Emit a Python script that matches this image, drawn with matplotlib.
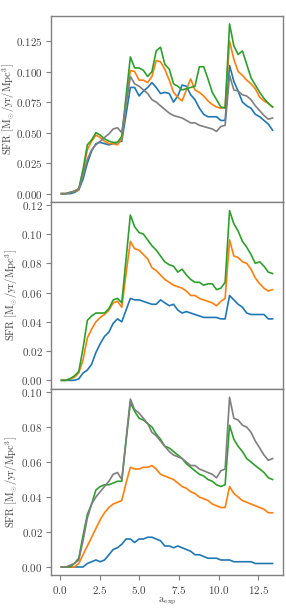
import matplotlib
matplotlib.use("Agg")
import matplotlib.pyplot as plt

plt.rcParams.update({
    "font.family": "serif",
    "font.serif": ["cmr10"],
    "mathtext.fontset": "cm",
    "axes.formatter.use_mathtext": True,
    "font.size": 8,
})

a_exp = [0.10, 0.37, 0.64, 0.91, 1.19, 1.46, 1.73, 2.00, 2.27, 2.54,
         2.81, 3.09, 3.36, 3.63, 3.90, 4.17, 4.44, 4.71, 4.99, 5.26,
         5.53, 5.80, 6.07, 6.34, 6.61, 6.89, 7.16, 7.43, 7.70, 7.97,
         8.24, 8.51, 8.79, 9.06, 9.33, 9.60, 9.87, 10.14, 10.41, 10.69,
         10.96, 11.23, 11.50, 11.77, 12.04, 12.31, 12.59, 12.86, 13.13, 13.40]

# reference (grey) curve, shared by top and bottom panels
sfr_ref = [0.000, 0.000, 0.001, 0.002, 0.004, 0.015, 0.028, 0.036, 0.040, 0.043,
           0.046, 0.049, 0.053, 0.054, 0.050, 0.073, 0.096, 0.090, 0.088, 0.085,
           0.082, 0.077, 0.075, 0.072, 0.069, 0.066, 0.064, 0.063, 0.062, 0.060,
           0.058, 0.058, 0.056, 0.055, 0.054, 0.053, 0.051, 0.055, 0.056, 0.097,
           0.085, 0.084, 0.081, 0.080, 0.077, 0.072, 0.068, 0.064, 0.061, 0.062]

top_blue = [0.000, 0.000, 0.000, 0.001, 0.003, 0.012, 0.025, 0.035, 0.041, 0.042,
            0.041, 0.040, 0.041, 0.042, 0.043, 0.065, 0.087, 0.087, 0.080, 0.084,
            0.087, 0.091, 0.087, 0.082, 0.083, 0.082, 0.075, 0.080, 0.089, 0.088,
            0.081, 0.077, 0.070, 0.065, 0.063, 0.063, 0.063, 0.060, 0.060, 0.105,
            0.092, 0.084, 0.075, 0.072, 0.070, 0.065, 0.063, 0.060, 0.057, 0.052]
top_orange = [0.000, 0.000, 0.001, 0.002, 0.003, 0.018, 0.036, 0.043, 0.048, 0.046,
              0.043, 0.041, 0.041, 0.040, 0.045, 0.075, 0.101, 0.100, 0.093, 0.093,
              0.091, 0.096, 0.109, 0.108, 0.102, 0.093, 0.083, 0.079, 0.076, 0.085,
              0.094, 0.085, 0.083, 0.080, 0.076, 0.073, 0.071, 0.070, 0.071, 0.125,
              0.110, 0.100, 0.097, 0.093, 0.090, 0.086, 0.079, 0.076, 0.074, 0.071]
top_green = [0.000, 0.000, 0.001, 0.002, 0.004, 0.020, 0.040, 0.044, 0.050, 0.048,
             0.045, 0.043, 0.042, 0.042, 0.047, 0.080, 0.112, 0.103, 0.103, 0.101,
             0.096, 0.100, 0.117, 0.120, 0.106, 0.102, 0.090, 0.088, 0.085, 0.086,
             0.087, 0.088, 0.104, 0.104, 0.094, 0.083, 0.077, 0.071, 0.070, 0.139,
             0.121, 0.114, 0.117, 0.106, 0.095, 0.089, 0.083, 0.078, 0.074, 0.071]

mid_blue = [0.000, 0.000, 0.000, 0.000, 0.001, 0.005, 0.007, 0.011, 0.019, 0.025,
            0.030, 0.033, 0.039, 0.042, 0.040, 0.048, 0.056, 0.055, 0.055, 0.054,
            0.053, 0.052, 0.052, 0.055, 0.053, 0.051, 0.052, 0.048, 0.046, 0.047,
            0.046, 0.045, 0.044, 0.043, 0.043, 0.043, 0.043, 0.042, 0.042, 0.058,
            0.055, 0.052, 0.050, 0.046, 0.045, 0.045, 0.045, 0.045, 0.042, 0.042]
mid_orange = [0.000, 0.000, 0.001, 0.002, 0.005, 0.014, 0.029, 0.035, 0.040, 0.043,
              0.045, 0.048, 0.053, 0.054, 0.050, 0.073, 0.095, 0.090, 0.089, 0.086,
              0.083, 0.077, 0.075, 0.072, 0.069, 0.067, 0.065, 0.064, 0.063, 0.061,
              0.058, 0.058, 0.056, 0.055, 0.054, 0.053, 0.051, 0.054, 0.056, 0.096,
              0.085, 0.084, 0.081, 0.080, 0.076, 0.070, 0.066, 0.063, 0.061, 0.062]
mid_green = [0.000, 0.000, 0.001, 0.003, 0.006, 0.022, 0.041, 0.044, 0.046, 0.046,
             0.046, 0.049, 0.055, 0.056, 0.053, 0.083, 0.113, 0.105, 0.101, 0.100,
             0.096, 0.092, 0.089, 0.085, 0.081, 0.079, 0.078, 0.074, 0.076, 0.072,
             0.069, 0.067, 0.067, 0.065, 0.066, 0.066, 0.062, 0.063, 0.067, 0.116,
             0.107, 0.102, 0.095, 0.091, 0.086, 0.080, 0.081, 0.078, 0.074, 0.073]

bot_blue = [0.000, 0.000, 0.000, 0.000, 0.000, 0.000, 0.002, 0.003, 0.004, 0.003,
            0.004, 0.007, 0.010, 0.011, 0.013, 0.016, 0.016, 0.014, 0.016, 0.016,
            0.017, 0.017, 0.016, 0.015, 0.012, 0.012, 0.011, 0.012, 0.011, 0.010,
            0.009, 0.007, 0.007, 0.006, 0.005, 0.005, 0.005, 0.004, 0.004, 0.004,
            0.003, 0.003, 0.003, 0.003, 0.003, 0.002, 0.002, 0.002, 0.002, 0.002]
bot_orange = [0.000, 0.000, 0.000, 0.000, 0.002, 0.007, 0.012, 0.017, 0.022, 0.027,
              0.031, 0.034, 0.036, 0.037, 0.038, 0.048, 0.057, 0.056, 0.056, 0.057,
              0.057, 0.058, 0.056, 0.053, 0.052, 0.051, 0.050, 0.048, 0.046, 0.045,
              0.043, 0.042, 0.040, 0.039, 0.038, 0.036, 0.035, 0.034, 0.034, 0.046,
              0.042, 0.040, 0.038, 0.037, 0.036, 0.035, 0.034, 0.033, 0.031, 0.031]
bot_green = [0.000, 0.000, 0.000, 0.002, 0.005, 0.018, 0.030, 0.036, 0.044, 0.046,
             0.047, 0.047, 0.048, 0.049, 0.049, 0.072, 0.094, 0.089, 0.085, 0.084,
             0.082, 0.080, 0.076, 0.073, 0.069, 0.068, 0.066, 0.064, 0.062, 0.059,
             0.057, 0.055, 0.053, 0.052, 0.050, 0.049, 0.047, 0.046, 0.047, 0.081,
             0.073, 0.069, 0.066, 0.062, 0.060, 0.058, 0.056, 0.054, 0.051, 0.050]

panels = [
    [(top_blue, "tab:blue"), (top_orange, "tab:orange"), (top_green, "tab:green"), (sfr_ref, "tab:gray")],
    [(mid_blue, "tab:blue"), (mid_orange, "tab:orange"), (mid_green, "tab:green")],
    [(bot_blue, "tab:blue"), (bot_orange, "tab:orange"), (bot_green, "tab:green"), (sfr_ref, "tab:gray")],
]

fig, axes = plt.subplots(3, 1, figsize=(2.86, 6.08), dpi=100, sharex=True)
fig.subplots_adjust(left=0.178, right=0.99, top=0.9745, bottom=0.0535, hspace=0.0)

text_c = "#444444"
spine_c = "#808080"
ylabel = r"$\mathrm{SFR}\ [\mathrm{M}_{\odot}/\mathrm{yr}/\mathrm{Mpc}^{3}]$"
label_pads = [-0.8, 0.5, 0.5]

for ax, series, lp in zip(axes, panels, label_pads):
    for vals, col in series:
        ax.plot(a_exp, vals, color=col, lw=1.2)
    for s in ax.spines.values():
        s.set_color(spine_c)
        s.set_linewidth(1.0)
    ax.tick_params(colors=spine_c, labelcolor=text_c, labelsize=8, length=3.5, width=0.8, pad=2.5)
    ax.set_ylabel(ylabel, color=text_c, fontsize=7.6, labelpad=lp)

axes[0].set_yticks([0.0, 0.025, 0.05, 0.075, 0.1, 0.125])
axes[2].set_xticks([0.0, 2.5, 5.0, 7.5, 10.0, 12.5])
axes[2].set_xlabel(r"$\mathrm{a}_{\mathrm{exp}}$", color=text_c, fontsize=7.6, labelpad=0.0)

fig.savefig("out.png", dpi=100)
